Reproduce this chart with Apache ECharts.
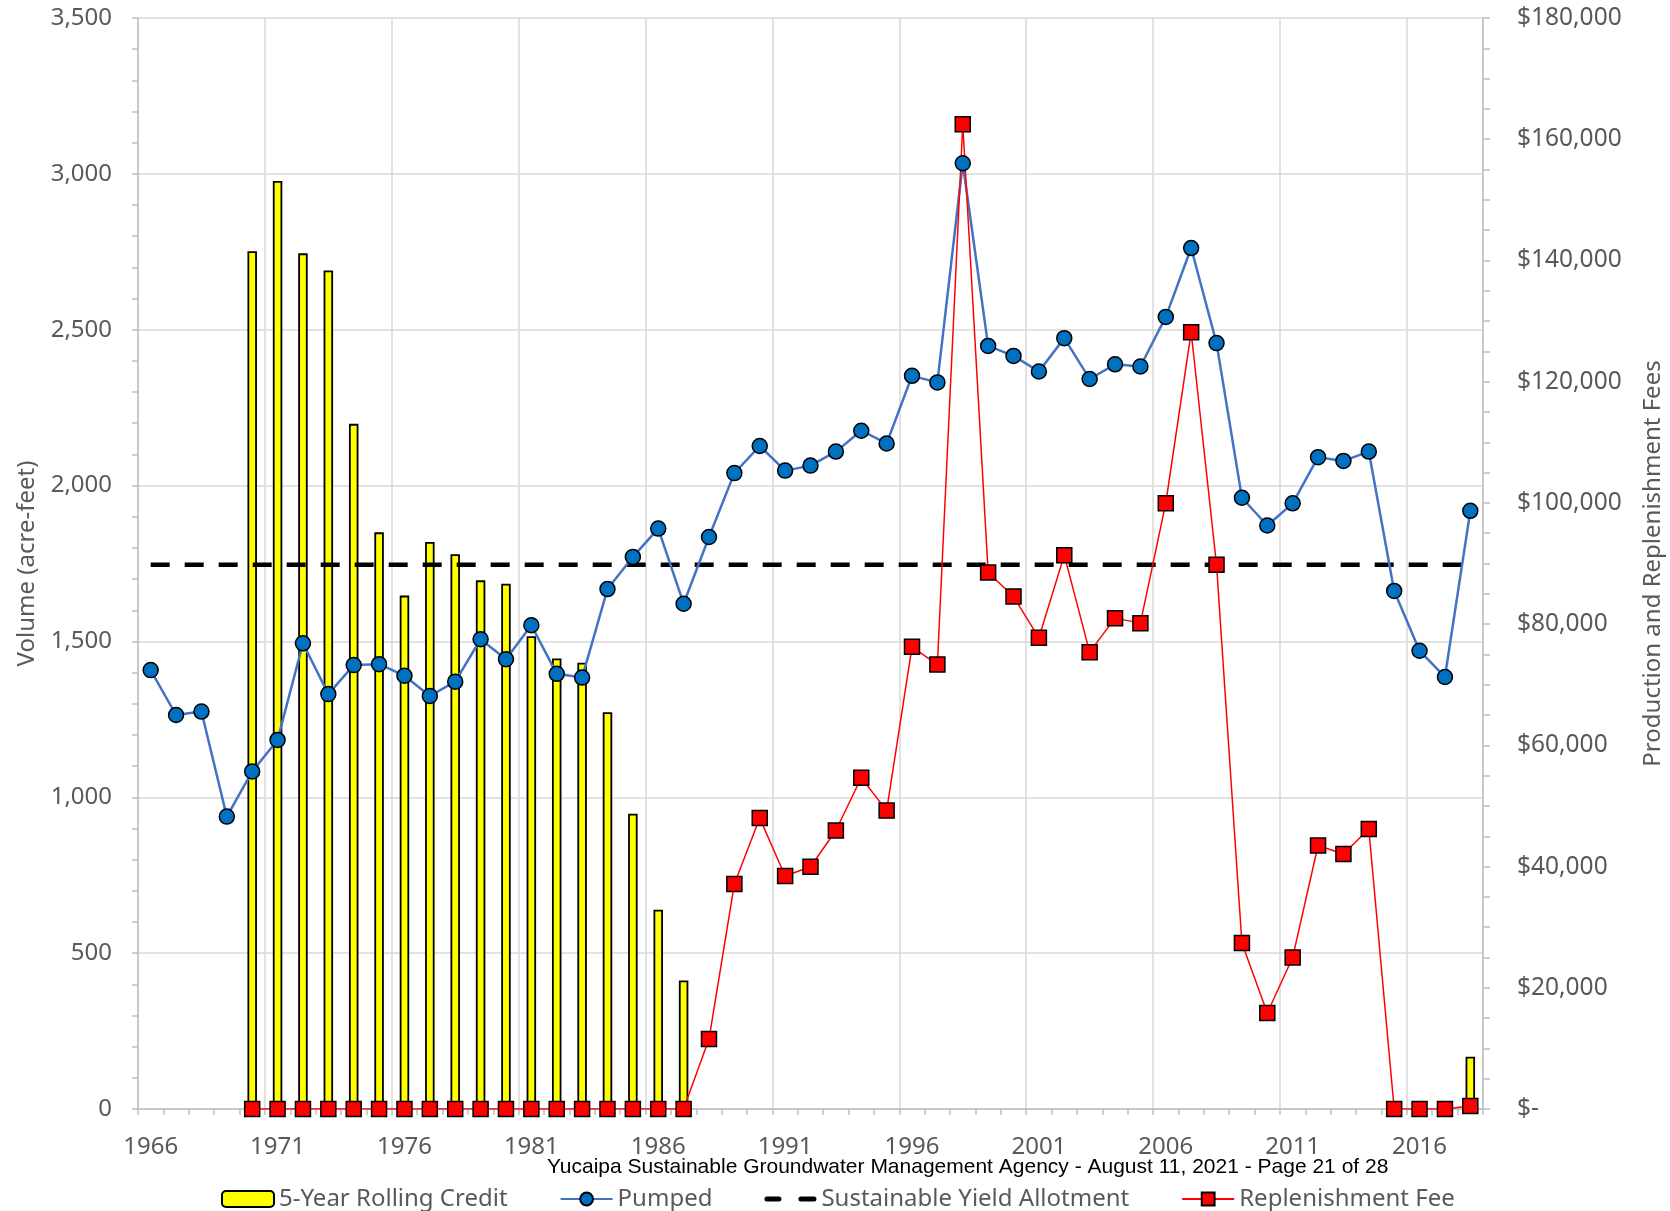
<!DOCTYPE html>
<html>
<head>
<meta charset="utf-8">
<title>Yucaipa - Pumped vs Sustainable Yield</title>
<script src="https://cdn.jsdelivr.net/npm/echarts@6/dist/echarts.min.js"></script>
<style>
  html, body { margin: 0; padding: 0; background: #fff; }
  #chart { width: 1670px; height: 1211px; }
</style>
</head>
<body>
<div id="chart"></div>
<script>
const years = [
  '1966','1967','1968','1969','1970','1971','1972','1973','1974','1975',
  '1976','1977','1978','1979','1980','1981','1982','1983','1984','1985',
  '1986','1987','1988','1989','1990','1991','1992','1993','1994','1995',
  '1996','1997','1998','1999','2000','2001','2002','2003','2004','2005',
  '2006','2007','2008','2009','2010','2011','2012','2013','2014','2015',
  '2016','2017','2018'
]

// acre-feet
const rollingCredit = [
  null, null, null, null, 2752, 2977, 2745, 2690, 2198, 1850,
  1647, 1819, 1780, 1696, 1685, 1517, 1445, 1432, 1273, 947,
  639, 412, null, null, null, null, null, null, null, null,
  null, null, null, null, null, null, null, null, null, null,
  null, null, null, null, null, null, null, null, null, null,
  null, null, 168
]

const pumped = [
  1408, 1264, 1275, 938, 1083, 1184, 1494, 1331, 1424, 1427,
  1390, 1325, 1371, 1507, 1443, 1552, 1396, 1384, 1668, 1771,
  1862, 1621, 1835, 2040, 2127, 2048, 2064, 2109, 2176, 2135,
  2352, 2331, 3034, 2448, 2416, 2366, 2473, 2342, 2389, 2382,
  2541, 2762, 2457, 1961, 1872, 1943, 2091, 2079, 2109, 1662,
  1470, 1386, 1919
]

const yieldAllotment = 1746

// dollars
const replenishmentFee = [
  null, null, null, null, 0, 0, 0, 0, 0, 0,
  0, 0, 0, 0, 0, 0, 0, 0, 0, 0,
  0, 0, 11546, 37111, 47998, 38431, 39966, 45953, 54645, 49230,
  76252, 73332, 162466, 88506, 84548, 77737, 91377, 75378, 80986, 80161,
  99954, 128158, 89777, 27380, 15834, 25005, 43478, 42060, 46183, 0,
  0, 0, 500
]

const axisGray = '#bfbfbf'
const labelGray = '#595959'
const font = 'Noto Sans'

// two short dashes for the allotment legend entry
const dashIcon = 'path://M2.5,0 H14.5 A2.5,2.5 0 0 1 14.5,5 H2.5 A2.5,2.5 0 0 1 2.5,0 Z ' +
  'M36.5,0 H49.5 A2.5,2.5 0 0 1 49.5,5 H36.5 A2.5,2.5 0 0 1 36.5,0 Z'

const chart = echarts.init(document.getElementById('chart'))

const option = {
  animation: false,
  textStyle: { fontFamily: font },
  title: {
    text: 'Yucaipa Sustainable Groundwater Management Agency - August 11, 2021 - Page 21 of 28',
    left: 547,
    top: 1157,
    padding: 0,
    textStyle: {
      fontFamily: 'Liberation Sans',
      fontSize: 21,
      fontWeight: 'normal',
      color: '#000'
    }
  },
  legend: {
    left: 221,
    top: 1187,
    padding: 0,
    itemWidth: 52,
    itemHeight: 16,
    itemGap: 52,
    symbolKeepAspect: true,
    textStyle: { fontSize: 24, color: labelGray, fontFamily: font },
    data: [
      '5-Year Rolling Credit',
      'Pumped',
      { name: 'Sustainable Yield Allotment', icon: dashIcon },
      'Replenishment Fee'
    ]
  },
  grid: {
    left: 138,
    right: 187,
    top: 18,
    bottom: 102,
    outerBoundsMode: 'none'
  },
  xAxis: {
    type: 'category',
    data: years,
    boundaryGap: true,
    axisLine: { lineStyle: { color: axisGray, width: 1.5 } },
    axisTick: { show: true, interval: 0, length: 6, lineStyle: { color: axisGray, width: 1.5 } },
    axisLabel: { interval: 4, margin: 26, fontSize: 24, color: labelGray },
    splitLine: { show: true, interval: 4, lineStyle: { color: '#d9d9d9', width: 1.5 } }
  },
  yAxis: [
    {
      type: 'value',
      min: 0,
      max: 3500,
      interval: 500,
      name: 'Volume (acre-feet)',
      nameLocation: 'middle',
      nameRotate: 90,
      nameGap: 99,
      nameTextStyle: { fontSize: 24, color: labelGray },
      axisLine: { show: true, lineStyle: { color: axisGray, width: 1.5 } },
      axisTick: { show: true, length: 6, lineStyle: { color: axisGray, width: 1.5 } },
      minorTick: { show: true, splitNumber: 5, length: 6, lineStyle: { color: axisGray, width: 1.5 } },
      axisLabel: {
        margin: 26,
        fontSize: 24,
        color: labelGray,
        formatter: v => v.toLocaleString('en-US')
      },
      splitLine: { show: true, lineStyle: { color: '#d9d9d9', width: 1.5 } }
    },
    {
      type: 'value',
      position: 'right',
      min: 0,
      max: 180000,
      interval: 20000,
      name: 'Production and Replenishment Fees',
      nameLocation: 'middle',
      nameRotate: 90,
      nameGap: 158,
      nameTextStyle: { fontSize: 24, color: labelGray },
      axisLine: { show: true, lineStyle: { color: axisGray, width: 1.5 } },
      axisTick: { show: true, length: 7, lineStyle: { color: axisGray, width: 1.5 } },
      minorTick: { show: true, splitNumber: 4, length: 7, lineStyle: { color: axisGray, width: 1.5 } },
      axisLabel: {
        margin: 34,
        fontSize: 24.5,
        color: labelGray,
        formatter: v => v === 0 ? '$-' : '$' + v.toLocaleString('en-US')
      },
      splitLine: { show: false }
    }
  ],
  series: [
    {
      name: '5-Year Rolling Credit',
      type: 'bar',
      yAxisIndex: 0,
      barWidth: 9.5,
      data: rollingCredit,
      itemStyle: { color: '#ffff00', borderColor: '#000', borderWidth: 1.8 }
    },
    {
      name: 'Sustainable Yield Allotment',
      type: 'line',
      yAxisIndex: 0,
      data: years.map(() => yieldAllotment),
      symbol: 'none',
      itemStyle: { color: '#000' },
      lineStyle: { color: '#000', width: 4.5, type: [19, 15] }
    },
    {
      name: 'Pumped',
      type: 'line',
      yAxisIndex: 0,
      data: pumped,
      symbol: 'circle',
      symbolSize: 15,
      lineStyle: { color: '#4472c4', width: 2.5 },
      itemStyle: { color: '#0070c0', borderColor: '#000', borderWidth: 1.5 }
    },
    {
      name: 'Replenishment Fee',
      type: 'line',
      yAxisIndex: 1,
      data: replenishmentFee,
      symbol: 'rect',
      symbolSize: 15,
      lineStyle: { color: '#ff0000', width: 1.5 },
      itemStyle: { color: '#ff0000', borderColor: '#000', borderWidth: 1.5 }
    }
  ]
}

chart.setOption(option)
</script>
</body>
</html>
